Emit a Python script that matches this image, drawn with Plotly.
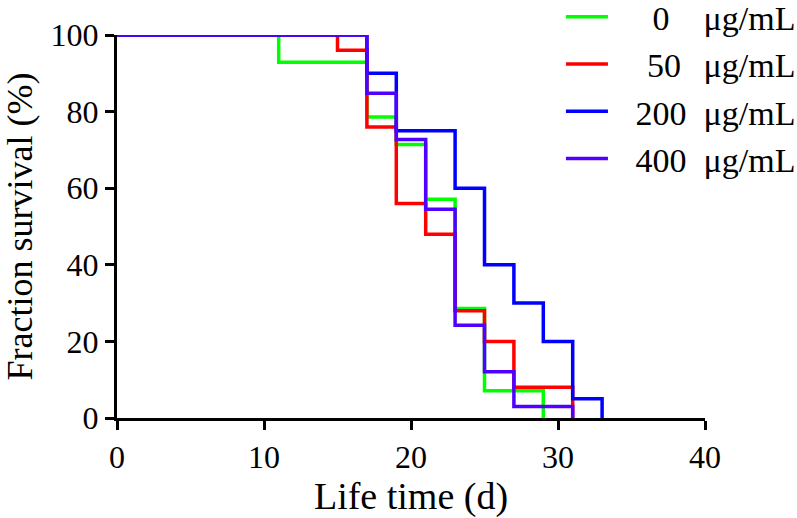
import plotly.graph_objects as go

# Kaplan-Meier style survival data
days_0 = [0, 11, 17, 19, 21, 23, 25, 29]
surv_0 = [100, 92.9, 78.6, 71.4, 57.1, 28.6, 7.1, 0]

days_50 = [0, 15, 17, 19, 21, 23, 25, 27, 31]
surv_50 = [100, 96, 76, 56, 48, 28, 20, 8, 0]

days_200 = [0, 17, 19, 23, 25, 27, 29, 31, 33]
surv_200 = [100, 90, 75, 60, 40, 30, 20, 5, 0]

days_400 = [0, 17, 19, 21, 23, 25, 27, 31]
surv_400 = [100, 84.8, 72.7, 54.5, 24.2, 12.1, 3.0, 0]

MU = "\u03bcg/mL"
E = "\u2002"   # en space
S = "\u2006"   # six-per-em space
labels = [E + S + E + "0" + E + E + MU,
          E + S + S + S + "50" + E + S + MU,
          E + S + "200" + E + MU,
          E + S + "400" + E + MU]
colors = ["#00ff00", "#ff0000", "#0000ff", "#5000ff"]

x_ticks = [0, 10, 20, 30, 40]
y_ticks = [0, 20, 40, 60, 80, 100]

FONT = "Liberation Serif, Times New Roman, serif"

fig = go.Figure()
series = [(days_0, surv_0), (days_50, surv_50), (days_200, surv_200), (days_400, surv_400)]
for (d, s), lab, c in zip(series, labels, colors):
    fig.add_trace(go.Scatter(
        x=d, y=s, mode="lines", line=dict(shape="hv", color=c, width=3.5),
        name=lab, cliponaxis=False,
    ))

fig.update_layout(
    width=797, height=518,
    margin=dict(l=117, r=92, t=35, b=100, autoexpand=False),
    paper_bgcolor="white", plot_bgcolor="white",
    font=dict(family=FONT, color="black", size=32),
    showlegend=True,
    legend=dict(
        x=0.755, y=1.122, xanchor="left", yanchor="top",
        font=dict(family=FONT, size=34, color="black"),
        bgcolor="rgba(0,0,0,0)",
        itemwidth=42,
    ),
    xaxis=dict(
        range=[0, 40], tickvals=x_ticks, ticktext=[str(v) for v in x_ticks],
        showgrid=False, zeroline=False, showline=True, linecolor="black", linewidth=3,
        ticks="outside", ticklen=9, tickwidth=3, tickcolor="black",
        tickfont=dict(family=FONT, size=32),
        title=dict(text="Life time (d)", font=dict(family=FONT, size=38), standoff=8),
    ),
    yaxis=dict(
        range=[0, 100], tickvals=y_ticks, ticktext=[str(v) for v in y_ticks],
        showgrid=False, zeroline=False, showline=True, linecolor="black", linewidth=3,
        ticks="outside", ticklen=9, tickwidth=3, tickcolor="black",
        tickfont=dict(family=FONT, size=32),
        title=dict(text="Fraction survival (%)", font=dict(family=FONT, size=36), standoff=34),
    ),
)

# remove the default 8px page margin so the figure sits at the window's corner
fig.write_html("out.html", config={"displayModeBar": False},
               post_script="document.body.style.margin='0';")
